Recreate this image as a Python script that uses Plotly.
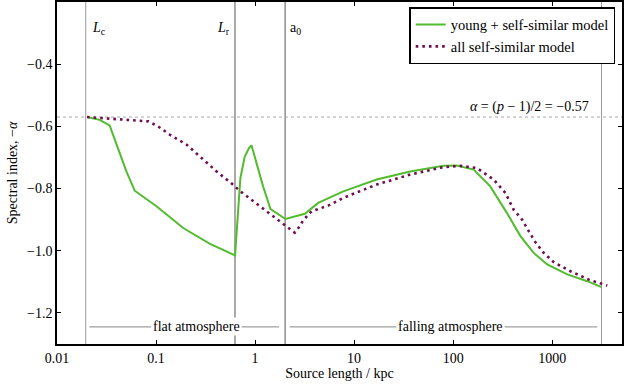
import numpy as np
import plotly.graph_objects as go

# young + self-similar model (green)
young_len = [0.0201, 0.027, 0.034, 0.0414, 0.0502, 0.0609, 0.101, 0.188, 0.351, 0.628,
             0.711, 0.787, 0.869, 0.92, 1.205, 1.432, 2.03, 3.18, 4.34, 7.78, 16.9,
             36.8, 80.0, 109, 161, 237, 350, 478, 651, 890, 1419, 2260, 3150]
young_alpha = [-0.570, -0.579, -0.597, -0.670, -0.745, -0.807, -0.857, -0.927, -0.978, -1.015,
               -0.766, -0.697, -0.670, -0.661, -0.793, -0.866, -0.898, -0.881, -0.846, -0.809, -0.771,
               -0.745, -0.727, -0.726, -0.739, -0.793, -0.879, -0.953, -1.007, -1.044, -1.076, -1.098, -1.117]

# all self-similar model (purple, dotted)
ss_len = [0.0201, 0.027, 0.0383, 0.0587, 0.0834, 0.105, 0.138, 0.204, 0.289, 0.409,
          0.581, 0.705, 1.0, 1.3, 1.71, 2.16, 2.52, 2.83, 3.06, 3.72, 5.48, 7.78,
          16.9, 36.8, 80.0, 118, 174, 256, 337, 408, 497, 580, 678, 822, 1038, 1531, 2345, 3605]
ss_alpha = [-0.570, -0.573, -0.576, -0.579, -0.584, -0.600, -0.627, -0.659, -0.702, -0.745,
            -0.784, -0.808, -0.845, -0.873, -0.902, -0.927, -0.942, -0.921, -0.902, -0.873, -0.855, -0.830,
            -0.787, -0.755, -0.731, -0.727, -0.734, -0.771, -0.814, -0.868, -0.900, -0.937, -0.973, -1.007,
            -1.037, -1.066, -1.093, -1.112]

# characteristic lengths (kpc)
L_c, L_r, a_0, L_end = 0.0195, 0.627, 2.01, 3150
alpha_inj = -0.57

x_ticks = [0.01, 0.1, 1, 10, 100, 1000]
x_ticktext = ["0.01", "0.1", "1", "10", "100", "1000"]
y_ticks = [-0.4, -0.6, -0.8, -1.0, -1.2]

FONT = "Liberation Serif"

fig = go.Figure()

fig.add_trace(go.Scatter(
    x=young_len, y=young_alpha, mode="lines", name="young + self-similar model",
    line=dict(color="#52bb2e", width=2),
))
fig.add_trace(go.Scatter(
    x=ss_len, y=ss_alpha, mode="lines", name="all self-similar model",
    line=dict(color="#6e0d50", width=2.6, dash="2.6px,4px"),
))

# vertical markers
for xv, col in [(L_c, "#999999"), (L_r, "#555555"), (a_0, "#555555"), (L_end, "#999999")]:
    fig.add_shape(type="line", xref="x", yref="paper", x0=xv, x1=xv, y0=0, y1=1,
                  line=dict(color=col, width=1), layer="below")

# injection index
fig.add_shape(type="line", xref="paper", yref="y", x0=0, x1=1, y0=alpha_inj, y1=alpha_inj,
              line=dict(color="#aaaaaa", width=1, dash="3px,3px"), layer="below")

# atmosphere brackets
y_br = -1.245
for x0, x1 in [(0.0212, 0.0894), (0.728, 1.75), (2.24, 27.0), (329, 2850)]:
    fig.add_shape(type="line", xref="x", yref="y", x0=x0, x1=x1, y0=y_br, y1=y_br,
                  line=dict(color="#888888", width=1), layer="below")

ann = [
    dict(x=np.log10(0.255), y=y_br, text="flat atmosphere", xanchor="center", bgcolor="white"),
    dict(x=np.log10(93.5), y=y_br, text="falling atmosphere", xanchor="center", bgcolor="white"),
    dict(x=np.log10(L_c), y=-0.284, text="<i>L</i><sub>c</sub>", xanchor="left", xshift=4),
    dict(x=np.log10(L_r), y=-0.284, text="<i>L</i><sub>r</sub>", xanchor="right", xshift=-3),
    dict(x=np.log10(a_0), y=-0.284, text="a<sub>0</sub>", xanchor="left", xshift=3),
    dict(x=np.log10(L_end), y=-0.539, text="<i>α</i> = (<i>p</i> − 1)/2 = −0.57",
         xanchor="right", xshift=-11),
]
for a in ann:
    fig.add_annotation(xref="x", yref="y", showarrow=False, yanchor="middle",
                       font=dict(family=FONT, size=14, color="black"), **a)

axis_common = dict(showline=True, linecolor="black", linewidth=1.5, mirror="ticks",
                   ticks="inside", ticklen=4, tickcolor="black", showgrid=False, zeroline=False,
                   automargin=False, tickfont=dict(family=FONT, size=14, color="black"))

fig.update_layout(
    width=624, height=385,
    margin=dict(l=57, r=2, t=2, b=41),
    plot_bgcolor="white", paper_bgcolor="white",
    font=dict(family=FONT, size=14, color="black"),
    xaxis=dict(type="log", range=[-2, 3.705], tickvals=x_ticks, ticktext=x_ticktext,
               title=dict(text="Source length / kpc", standoff=2,
                          font=dict(family=FONT, size=14)), **axis_common),
    yaxis=dict(range=[-1.3, -0.2], tickvals=y_ticks, tickformat=".1f",
               title=dict(text="Spectral index, −<i>α</i>", standoff=6,
                          font=dict(family=FONT, size=14)), **axis_common),
    legend=dict(x=0.988, y=0.985, xanchor="right", yanchor="top",
                bgcolor="white", bordercolor="black", borderwidth=1.5,
                font=dict(family=FONT, size=14.5), tracegroupgap=0),
    showlegend=True,
)

# drop the default page margin so the figure sits in the corner of the window
fig.write_html("out.html", config={"displayModeBar": False},
               post_script="document.body.style.margin='0';")
